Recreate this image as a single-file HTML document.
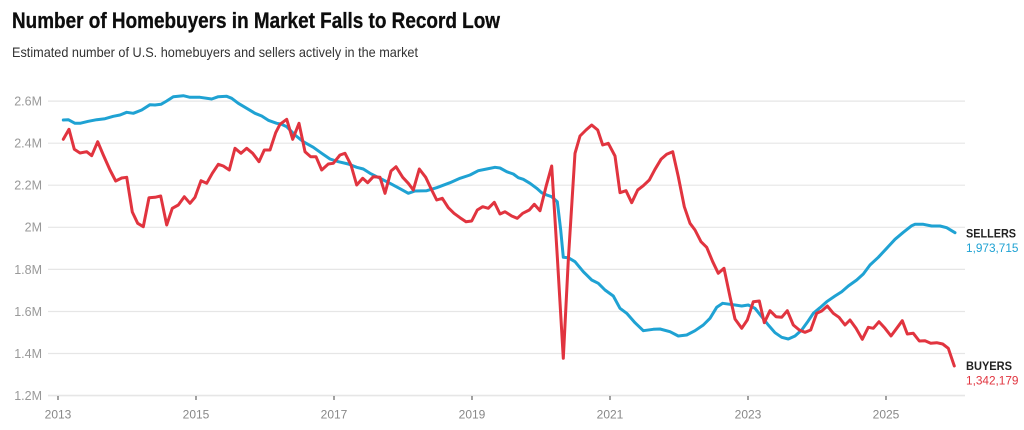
<!DOCTYPE html>
<html>
<head>
<meta charset="utf-8">
<style>
  html,body{margin:0;padding:0;background:#fff;}
  svg{display:block;}
  text{font-family:"Liberation Sans",sans-serif;}
</style>
</head>
<body>
<svg width="1024" height="430" viewBox="0 0 1024 430" xmlns="http://www.w3.org/2000/svg">
  <rect width="1024" height="430" fill="#fff"/>
  <text x="12" y="28" font-size="22" font-weight="bold" fill="#0d0d0d" stroke="#0d0d0d" stroke-width="0.3" textLength="488" lengthAdjust="spacingAndGlyphs">Number of Homebuyers in Market Falls to Record Low</text>
  <text x="12" y="57" font-size="14" fill="#333" textLength="406" lengthAdjust="spacingAndGlyphs">Estimated number of U.S. homebuyers and sellers actively in the market</text>

  <!-- grid -->
  <g stroke="#e6e6e6" stroke-width="1.2">
    <line x1="48" x2="965" y1="101.1" y2="101.1"/>
    <line x1="48" x2="965" y1="143.2" y2="143.2"/>
    <line x1="48" x2="965" y1="185.2" y2="185.2"/>
    <line x1="48" x2="965" y1="227.3" y2="227.3"/>
    <line x1="48" x2="965" y1="269.4" y2="269.4"/>
    <line x1="48" x2="965" y1="311.5" y2="311.5"/>
    <line x1="48" x2="965" y1="353.5" y2="353.5"/>
    <line x1="48" x2="965" y1="395.6" y2="395.6" stroke-width="1.6"/>
  </g>
  <g font-size="12.5" fill="#999" text-anchor="end">
    <text x="42" y="105.5">2.6M</text>
    <text x="42" y="147.6">2.4M</text>
    <text x="42" y="189.6">2.2M</text>
    <text x="42" y="231.7">2M</text>
    <text x="42" y="273.8">1.8M</text>
    <text x="42" y="315.9">1.6M</text>
    <text x="42" y="357.9">1.4M</text>
    <text x="42" y="400">1.2M</text>
  </g>
  <!-- x ticks -->
  <g stroke="#444" stroke-width="1">
    <line x1="58" x2="58" y1="396" y2="400"/>
    <line x1="196" x2="196" y1="396" y2="400"/>
    <line x1="334" x2="334" y1="396" y2="400"/>
    <line x1="472" x2="472" y1="396" y2="400"/>
    <line x1="610" x2="610" y1="396" y2="400"/>
    <line x1="748" x2="748" y1="396" y2="400"/>
    <line x1="886" x2="886" y1="396" y2="400"/>
  </g>
  <g font-size="12" fill="#888" text-anchor="middle">
    <text x="58" y="418.5">2013</text>
    <text x="196" y="418.5">2015</text>
    <text x="334" y="418.5">2017</text>
    <text x="472" y="418.5">2019</text>
    <text x="610" y="418.5">2021</text>
    <text x="748" y="418.5">2023</text>
    <text x="886" y="418.5">2025</text>
  </g>

  <!-- sellers -->
  <polyline fill="none" stroke="#1fa2d3" stroke-width="3" stroke-linejoin="round" stroke-linecap="round" points="63.3,120 68.3,119.7 75,123.3 80,123.3 88.3,121.3 96.7,119.7 105,118.7 113.3,116.3 120,115 126.7,112.3 133.3,113.3 141.7,110 150,104.7 155,105 161,104.3 166.7,101 173.3,96.7 183.3,95.7 190,97.3 200,97.3 211.7,99 218.3,96.7 226.7,96.3 231.7,98.3 238.3,103.3 246.7,108.3 255,113.3 261.7,116 268.3,120.3 276.7,123.3 281,124 286.7,126.7 295,135 303.3,141.7 313.3,147.3 321.7,153.3 330,159 338.3,161.7 348.3,164 356.7,167.3 363.3,169 370,173.3 380,178.3 390,183.3 400,188.7 408.3,193.3 415,191 426.7,190.7 436.7,187.7 450,182.7 460,178.3 470,175 478.3,170.7 486.7,169 495,167.3 500,168 506.7,171.7 513.3,174 518.3,177.7 523.3,179.3 530,183.3 536.7,188.3 541.7,192.7 546.7,195 551.7,196.7 557.3,201.7 560.7,230 563.3,257.3 568.3,257.7 575,261.7 583.3,271.7 591.7,280 598.3,283.3 605,290 613.3,296 620,308.3 626.7,313.3 635,322.7 643.3,330.7 653.3,329.3 660,329 670,331.7 678.3,336 686.7,335 695,330.7 703.3,325 710,318.3 716.7,307.3 722.7,303.3 730,304.3 735,305 741.7,306 748.3,305 755,308.3 761.7,316.7 768.3,325 775,332.7 781.7,337.3 788.3,339 795,336 801.7,330 807.3,322.3 813.3,313.3 820,307.7 826.7,301.7 835,296 841.7,291.7 848.3,286 856.7,280 863.3,274 870,265 878.3,257.3 886.7,248.3 895,239.3 903.3,232.3 911.7,225.7 915,224.3 923.3,224.3 931.7,226 940,226 946.7,227.7 955,232.7"/>

  <!-- buyers -->
  <polyline fill="none" stroke="#e1343f" stroke-width="3" stroke-linejoin="round" stroke-linecap="round" points="63.3,139.3 69,129.3 74.3,149.3 80,153 86.7,151.7 91.7,155.7 97.7,141.7 103.3,155 110,170 115.7,181 121.7,178 126.7,177.3 132.3,212 137.7,223.3 143.3,226.7 149,197.7 155,197.3 160.7,196 166.7,225 172.3,208.3 178.3,205 184.3,196.7 190,203.3 195,197.3 201,180.7 206.7,183.3 212.3,173.3 218.3,164.3 223.3,166 229.3,170 235,148.3 241,153.3 246.7,148.3 252.7,153.3 259,161.7 264.3,150 270,150 275.7,132.7 280,124.3 286.7,119.3 292.7,139.3 299,123.3 305,151.7 310.7,156.7 316,156.7 321.7,170 328.3,164 333.3,163.3 340,155 345,153.3 351,165 356.7,185 362.7,178.3 367.7,182.7 373.3,176.7 380,177.3 385,193.3 391,171 396,166.7 402.7,177.3 408.3,183.3 413.3,190 419.3,169 425.7,177.3 431.7,190 436.7,200 442.3,198.3 448.3,207.7 454,213.3 460,217.7 466,221.7 471.7,221 477.3,210 482.7,206.7 488.3,208.3 494.3,202.3 500,214 505,211.7 511.7,216 517.3,218.3 522.7,213.3 529.3,210 534.3,204.3 540,210.7 546,186.7 551.7,166 557.3,256.7 563.3,358.3 568.3,260 575,153.3 580,136 586,130 591.7,125 597.7,130 602.7,145 608.3,143.3 615,156 620,192.7 626,190.7 631.7,202.7 637.7,190 643.3,185.7 649.3,180 655,169.3 661,159.3 666.7,154.3 672.7,151.7 678.3,176.7 684.3,206.7 690,223.3 695,230 701,241.7 706.7,247.3 712.7,261.7 718.3,273.3 724,268.3 730,296.7 735,319 741.7,328.3 747.3,320 753.3,301.7 759.3,301 764.3,322.7 770,310.7 776,316.7 781.7,317.3 787.3,310.7 793.3,325 799.3,330 805,332.3 810.7,330 816.7,313.3 821.7,311 827.3,306 833.3,313.3 839,317.3 845,325 850,320 856,328.3 862.3,339.3 868.3,327.3 873.3,328.3 879,321.7 885,328.3 891,336 896.7,328.3 902.3,320.7 907.3,334 913.3,333.3 919.3,341 925,340.7 930.7,343.3 936.7,342.7 942.7,344 948.3,348.3 954.3,366"/>

  <!-- end labels -->
  <text x="966" y="237.3" font-size="12" font-weight="bold" fill="#222" textLength="50" lengthAdjust="spacingAndGlyphs">SELLERS</text>
  <text x="966" y="251.8" font-size="12" fill="#1fa2d3" textLength="52.5" lengthAdjust="spacingAndGlyphs">1,973,715</text>
  <text x="966" y="370" font-size="12" font-weight="bold" fill="#222" textLength="46" lengthAdjust="spacingAndGlyphs">BUYERS</text>
  <text x="966" y="384.5" font-size="12" fill="#e1343f" textLength="52.5" lengthAdjust="spacingAndGlyphs">1,342,179</text>
</svg>
</body>
</html>
